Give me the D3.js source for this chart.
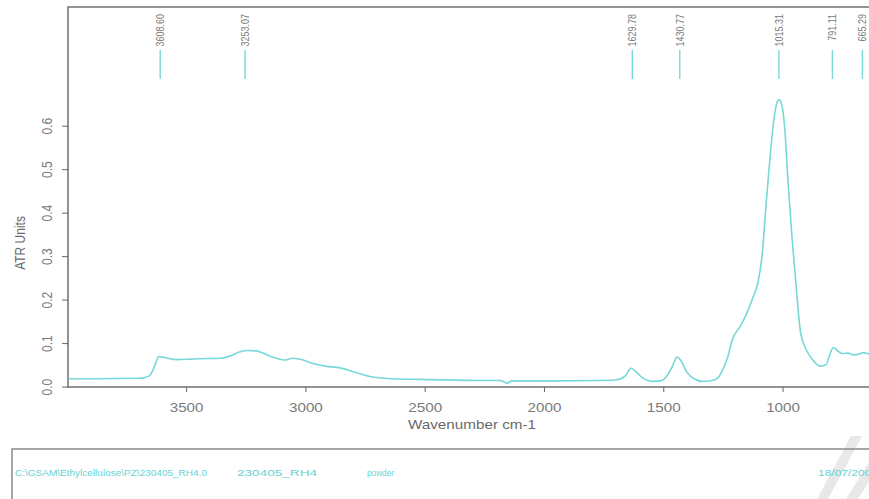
<!DOCTYPE html>
<html>
<head>
<meta charset="utf-8">
<script src="https://cdn.jsdelivr.net/npm/d3@7"></script>
<style>
  html, body { margin: 0; padding: 0; background: #fff; }
  svg { display: block; }
  text { font-family: "Liberation Sans", Arial, sans-serif; }
</style>
</head>
<body>
<svg id="chart" width="869" height="499"></svg>
<script>
// ATR-FTIR spectrum: wavenumber (cm-1) vs absorbance (ATR units)
const wavenumber = [3995, 3860, 3700, 3672, 3651, 3630, 3615, 3600, 3567, 3538, 3483, 3441, 3357, 3316, 3274, 3240, 3207, 3181, 3148, 3106, 3085, 3056, 3022, 2968, 2917, 2855, 2792, 2729, 2645, 2477, 2268, 2184, 2155, 2134, 2016, 1765, 1702, 1660, 1635, 1614, 1589, 1547, 1513, 1484, 1463, 1442, 1429, 1400, 1371, 1337, 1296, 1271, 1250, 1233, 1208, 1178, 1153, 1124, 1103, 1086, 1069, 1052, 1035, 1022, 1014, 1002, 989, 977, 960, 943, 926, 905, 885, 864, 843, 818, 801, 788, 771, 750, 725, 704, 683, 662, 637, 600];
const absorbance = [0.018, 0.018, 0.019, 0.021, 0.026, 0.050, 0.069, 0.068, 0.064, 0.062, 0.063, 0.064, 0.065, 0.070, 0.080, 0.083, 0.082, 0.078, 0.070, 0.063, 0.061, 0.065, 0.063, 0.053, 0.047, 0.043, 0.033, 0.023, 0.018, 0.016, 0.014, 0.014, 0.008, 0.013, 0.013, 0.014, 0.015, 0.024, 0.042, 0.034, 0.021, 0.012, 0.013, 0.025, 0.045, 0.068, 0.062, 0.032, 0.018, 0.012, 0.014, 0.020, 0.040, 0.062, 0.112, 0.138, 0.165, 0.205, 0.240, 0.300, 0.420, 0.530, 0.620, 0.655, 0.660, 0.645, 0.580, 0.470, 0.340, 0.230, 0.130, 0.090, 0.070, 0.055, 0.047, 0.050, 0.075, 0.090, 0.083, 0.076, 0.077, 0.073, 0.074, 0.078, 0.075, 0.074];

// picked peaks
const peakPositions = [3608.60, 3253.07, 1629.78, 1430.77, 1015.31, 791.11, 665.29];
const peakLabels = ["3608.60", "3253.07", "1629.78", "1430.77", "1015.31", "791.11", "665.29"];

const xTicks = [3500, 3000, 2500, 2000, 1500, 1000];
const yTicks = [0.0, 0.1, 0.2, 0.3, 0.4, 0.5, 0.6];

// sample info strip
const infoTexts = ["C:\\GSAM\\Ethylcellulose\\PZ\\230405_RH4.0", "230405_RH4", "powder", "18/07/2005"];

const svg = d3.select("#chart");
const plotLeft = 68, plotTop = 7, plotBottom = 387, plotRight = 878;
const stretch = 1.27;

const x = d3.scaleLinear().domain([3995, 600]).range([plotLeft, plotRight]);
const y = d3.scaleLinear().domain([-0.001, 0.873]).range([plotBottom, plotTop]);

const axisColor = "#666";
const labelColor = "#7a7a7a";
const curveColor = "#78d8d8";
const infoColor = "#66d2d2";

// plot frame (top, left, bottom)
svg.append("path")
  .attr("d", `M${plotRight},${plotTop}H${plotLeft}V${plotBottom}H${plotRight}`)
  .attr("fill", "none").attr("stroke", "#707070").attr("stroke-width", 1.5);

// x axis
const gx = svg.append("g").attr("transform", `translate(0,${plotBottom})`)
  .call(d3.axisBottom(x).tickValues(xTicks).tickSize(5).tickFormat(d3.format("d")));
gx.select(".domain").remove();
gx.selectAll(".tick line").attr("stroke", axisColor);
gx.selectAll(".tick text")
  .attr("y", 0)
  .attr("dy", 0)
  .attr("transform", `translate(0,25) scale(${stretch},1)`)
  .attr("font-size", 12).attr("fill", labelColor).attr("font-family", "Liberation Sans, Arial, sans-serif");

// y axis with rotated labels
const gy = svg.append("g").attr("transform", `translate(${plotLeft},0)`)
  .call(d3.axisLeft(y).tickValues(yTicks).tickSize(6).tickFormat(d3.format(".1f")));
gy.select(".domain").remove();
gy.selectAll(".tick line").attr("stroke", axisColor);
gy.selectAll(".tick text")
  .attr("x", 0).attr("dy", 0)
  .attr("text-anchor", "middle")
  .attr("transform", `translate(-21,0) scale(${stretch},1) rotate(-90) translate(0,4)`)
  .attr("font-size", 12).attr("fill", labelColor).attr("font-family", "Liberation Sans, Arial, sans-serif");

// axis titles
svg.append("text")
  .attr("transform", `translate(472,429) scale(${stretch},1)`)
  .attr("text-anchor", "middle").attr("font-size", 12).attr("fill", "#6a6a6a")
  .text("Wavenumber cm-1");

svg.append("text")
  .attr("transform", `translate(25,243) scale(${stretch},1) rotate(-90)`)
  .attr("text-anchor", "middle").attr("font-size", 12).attr("fill", "#6a6a6a")
  .text("ATR Units");

// spectrum
const pts = wavenumber.map((w, i) => [w, absorbance[i]]);
const line = d3.line().x(d => x(d[0])).y(d => y(d[1])).curve(d3.curveMonotoneX);
svg.append("path")
  .datum(pts)
  .attr("d", line)
  .attr("fill", "none").attr("stroke", curveColor).attr("stroke-width", 1.6)
  .attr("stroke-linejoin", "round");

// peak markers and labels
const peaks = svg.append("g");
peakPositions.forEach((p, i) => {
  const px = x(p);
  peaks.append("line")
    .attr("x1", px).attr("x2", px).attr("y1", 50).attr("y2", 79)
    .attr("stroke", curveColor).attr("stroke-width", 1.4);
  peaks.append("text")
    .attr("transform", `translate(${px},14) scale(${stretch},1) rotate(-90) translate(0,3)`)
    .attr("text-anchor", "end").attr("font-size", 9).attr("fill", labelColor)
    .text(peakLabels[i]);
});

// faint diagonal watermark bands
svg.append("path")
  .attr("d", "M851,436L862,436L828,499L817,499Z")
  .attr("fill", "#e8e8e8");
svg.append("path")
  .attr("d", "M869,462L869,482L858,499L846,499Z")
  .attr("fill", "#e8e8e8");

// info strip box
svg.append("path")
  .attr("d", "M880,449H12V505")
  .attr("fill", "none").attr("stroke", "#8a8a8a").attr("stroke-width", 1.5);

const infoX = [15, 237, 367, 818];
const infoW = [192, 80, 27, 60];
infoTexts.forEach((t, i) => {
  svg.append("text")
    .attr("x", infoX[i]).attr("y", 476)
    .attr("font-size", 8.5).attr("fill", infoColor)
    .attr("textLength", infoW[i]).attr("lengthAdjust", "spacingAndGlyphs")
    .text(t);
});
</script>
</body>
</html>
